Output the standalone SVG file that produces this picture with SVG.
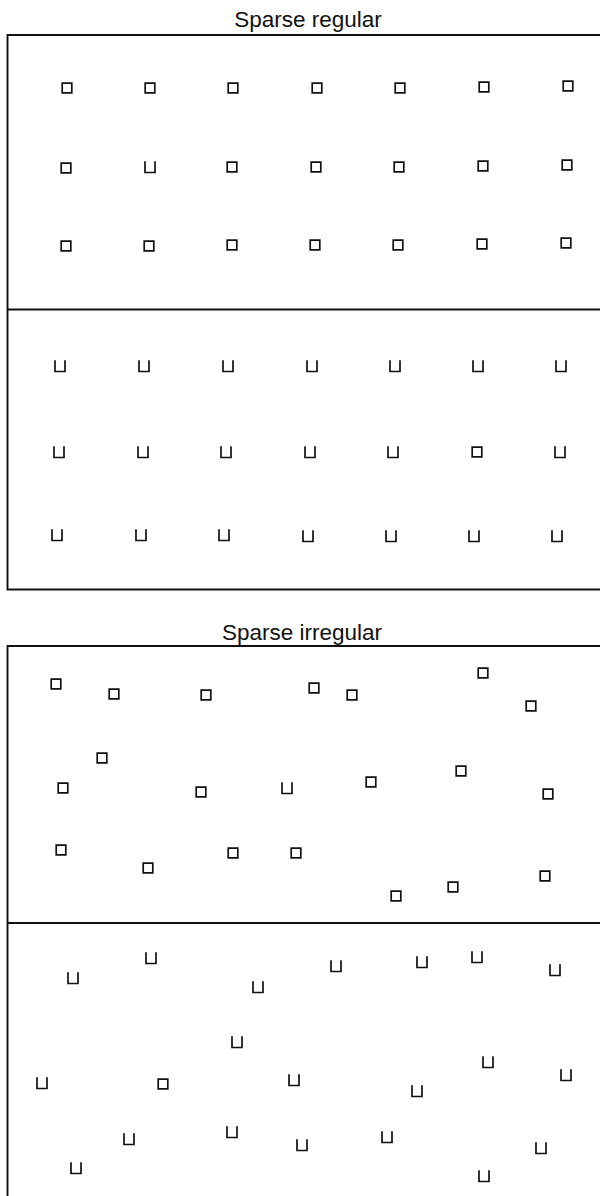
<svg xmlns="http://www.w3.org/2000/svg" xmlns:xlink="http://www.w3.org/1999/xlink" width="600" height="1196" viewBox="0 0 600 1196">
<style>
.title{font-family:"Liberation Sans",Arial,sans-serif;font-size:22.5px;fill:#111;text-anchor:middle}
.frame{fill:none;stroke:#111;stroke-width:1.9}
.mk{fill:none;stroke:#111;stroke-width:1.7;stroke-linejoin:miter}
</style>
<defs>
<path id="sq" class="mk" d="M-4.8,-4.8 H4.8 V4.8 H-4.8 Z"/>
<path id="u" class="mk" d="M-5,-5.8 V5.5 H5 V-5.8"/>
</defs>
<rect width="600" height="1196" fill="#fff"/>
<g id="panel-regular">
<text class="title" x="308" y="27">Sparse regular</text>
<path class="frame" d="M606,35 H7.5 V589.5 H606 M7.5,309.5 H606"/>
<g id="regular-top">
<use href="#sq" x="67" y="88"/><use href="#sq" x="150" y="88"/><use href="#sq" x="233" y="88"/><use href="#sq" x="317" y="88"/><use href="#sq" x="400" y="88"/><use href="#sq" x="484" y="87"/><use href="#sq" x="568" y="86"/>
<use href="#sq" x="66" y="168"/><use href="#u" x="150" y="167"/><use href="#sq" x="232" y="167"/><use href="#sq" x="316" y="167"/><use href="#sq" x="399" y="167"/><use href="#sq" x="483" y="166"/><use href="#sq" x="567" y="165"/>
<use href="#sq" x="66" y="246"/><use href="#sq" x="149" y="246"/><use href="#sq" x="232" y="245"/><use href="#sq" x="315" y="245"/><use href="#sq" x="398" y="245"/><use href="#sq" x="482" y="244"/><use href="#sq" x="566" y="243"/>
</g>
<g id="regular-bottom">
<use href="#u" x="60" y="366"/><use href="#u" x="144" y="366"/><use href="#u" x="228" y="366"/><use href="#u" x="312" y="366"/><use href="#u" x="395" y="366"/><use href="#u" x="478" y="366"/><use href="#u" x="561" y="366"/>
<use href="#u" x="59" y="452"/><use href="#u" x="143" y="452"/><use href="#u" x="226" y="452"/><use href="#u" x="310" y="452"/><use href="#u" x="393" y="452"/><use href="#sq" x="477" y="452"/><use href="#u" x="560" y="452"/>
<use href="#u" x="57" y="535"/><use href="#u" x="141" y="535"/><use href="#u" x="224" y="535"/><use href="#u" x="308" y="536"/><use href="#u" x="391" y="536"/><use href="#u" x="474" y="536"/><use href="#u" x="557" y="536"/>
</g>
</g>
<g id="panel-irregular">
<text class="title" x="302" y="640">Sparse irregular</text>
<path class="frame" d="M606,646 H7.5 V1200 M7.5,923 H606"/>
<g id="irregular-top">
<use href="#sq" x="56" y="684"/><use href="#sq" x="114" y="694"/><use href="#sq" x="206" y="695"/><use href="#sq" x="314" y="688"/><use href="#sq" x="352" y="695"/><use href="#sq" x="483" y="673"/><use href="#sq" x="531" y="706"/>
<use href="#sq" x="102" y="758"/><use href="#sq" x="63" y="788"/><use href="#sq" x="201" y="792"/><use href="#u" x="287" y="788"/><use href="#sq" x="371" y="782"/><use href="#sq" x="461" y="771"/><use href="#sq" x="548" y="794"/>
<use href="#sq" x="61" y="850"/><use href="#sq" x="148" y="868"/><use href="#sq" x="233" y="853"/><use href="#sq" x="296" y="853"/><use href="#sq" x="396" y="896"/><use href="#sq" x="453" y="887"/><use href="#sq" x="545" y="876"/>
</g>
<g id="irregular-bottom">
<use href="#u" x="73" y="978"/><use href="#u" x="151" y="958"/><use href="#u" x="258" y="987"/><use href="#u" x="336" y="966"/><use href="#u" x="422" y="962"/><use href="#u" x="477" y="957"/><use href="#u" x="555" y="970"/>
<use href="#u" x="237" y="1042"/><use href="#u" x="42" y="1083"/><use href="#sq" x="163" y="1084"/><use href="#u" x="294" y="1080"/><use href="#u" x="417" y="1091"/><use href="#u" x="488" y="1062"/><use href="#u" x="566" y="1075"/>
<use href="#u" x="129" y="1139"/><use href="#u" x="232" y="1132"/><use href="#u" x="302" y="1145"/><use href="#u" x="387" y="1137"/><use href="#u" x="541" y="1148"/><use href="#u" x="76" y="1168"/><use href="#u" x="484" y="1176"/>
</g>
</g>
</svg>
